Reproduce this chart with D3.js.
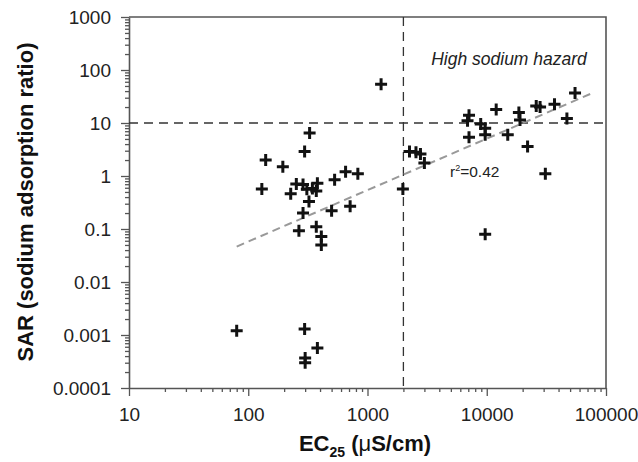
<!DOCTYPE html>
<html>
<head>
<meta charset="utf-8">
<script src="https://cdn.jsdelivr.net/npm/d3@7"></script>
<style>
  body { margin: 0; background: #fff; }
  text { font-family: Arial, "Liberation Sans", sans-serif; }
</style>
</head>
<body>
<div id="chart"></div>
<script>
// EC25 (uS/cm) and SAR
var ec = [80, 297, 300, 300, 380,
    327, 297, 140, 195, 130, 253, 288, 227, 310, 345, 372, 380, 323, 288, 266, 372, 410, 410,
    530, 655, 830, 500, 715,
    1300, 1980, 2250, 2550, 2780, 3000,
    7100, 6900, 8900, 9700, 7100, 9700, 12000, 15000, 18600, 19000, 22000, 26000, 28000, 37000, 31000, 47000, 55000, 9700];
var sar = [0.0012, 0.0013, 0.00037, 0.0003, 0.00057,
    6.5, 2.9, 2.0, 1.5, 0.57, 0.71, 0.69, 0.46, 0.56, 0.58, 0.52, 0.73, 0.33, 0.2, 0.093, 0.11, 0.072, 0.05,
    0.85, 1.2, 1.1, 0.22, 0.27,
    54, 0.57, 2.9, 2.8, 2.6, 1.75,
    14, 11, 9.6, 8, 5.4, 6, 18, 6, 15.7, 11.4, 3.6, 21, 20, 22.5, 1.1, 12.2, 37, 0.08];

var xTicks = [10, 100, 1000, 10000, 100000];
var yTicks = [0.0001, 0.001, 0.01, 0.1, 1, 10, 100, 1000];
var yTickLabels = ["0.0001", "0.001", "0.01", "0.1", "1", "10", "100", "1000"];

var ecLimit = 2000;   // vertical dashed line
var sarLimit = 10;    // horizontal dashed line
// log10(SAR) = a + b*log10(EC), drawn between fitX
var fitA = -3.179, fitB = 0.971;
var fitX = [80, 80000];

var width = 638, height = 462;
var margin = {top: 17, right: 32, bottom: 74, left: 129};

var svg = d3.select("#chart").append("svg")
    .attr("width", width)
    .attr("height", height);

var x = d3.scaleLog().domain([10, 100000]).range([margin.left, width - margin.right]);
var y = d3.scaleLog().domain([0.0001, 1000]).range([height - margin.bottom, margin.top]);

// minor ticks
var xMinor = [], yMinor = [];
xTicks.slice(0, -1).forEach(function(t) { for (var k = 2; k < 10; k++) xMinor.push(t * k); });
yTicks.slice(0, -1).forEach(function(t) { for (var k = 2; k < 10; k++) yMinor.push(t * k); });

var axisColor = "#555";

svg.append("g")
    .attr("transform", "translate(0," + (height - margin.bottom) + ")")
    .call(d3.axisBottom(x).tickValues(xMinor).tickSize(4).tickFormat(""))
    .call(g => g.select(".domain").remove())
    .call(g => g.selectAll("line").attr("stroke", axisColor).attr("stroke-width", 1.3));
svg.append("g")
    .attr("transform", "translate(" + margin.left + ",0)")
    .call(d3.axisLeft(y).tickValues(yMinor).tickSize(4).tickFormat(""))
    .call(g => g.select(".domain").remove())
    .call(g => g.selectAll("line").attr("stroke", axisColor).attr("stroke-width", 1.3));

var xAxis = svg.append("g")
    .attr("transform", "translate(0," + (height - margin.bottom) + ")")
    .call(d3.axisBottom(x).tickValues(xTicks).tickSize(8).tickSizeOuter(0).tickPadding(12)
        .tickFormat(d3.format("d")));
var yAxis = svg.append("g")
    .attr("transform", "translate(" + margin.left + ",0)")
    .call(d3.axisLeft(y).tickValues(yTicks).tickSize(8).tickSizeOuter(0).tickPadding(10)
        .tickFormat((d, i) => yTickLabels[i]));

[xAxis, yAxis].forEach(function(g) {
    g.select(".domain").attr("stroke", axisColor).attr("stroke-width", 1.6);
    g.selectAll(".tick line").attr("stroke", axisColor).attr("stroke-width", 1.3);
    g.selectAll(".tick text").attr("fill", "#222").style("font-size", "19px");
});

// frame top and right
svg.append("path")
    .attr("d", "M" + margin.left + "," + margin.top + "H" + (width - margin.right) + "V" + (height - margin.bottom))
    .attr("fill", "none")
    .attr("stroke", axisColor)
    .attr("stroke-width", 1.6);

// hazard limits
svg.append("line")
    .attr("x1", x(10)).attr("x2", x(100000))
    .attr("y1", y(sarLimit)).attr("y2", y(sarLimit))
    .attr("stroke", "#333").attr("stroke-width", 1.3).attr("stroke-dasharray", "9,6");
svg.append("line")
    .attr("x1", x(ecLimit)).attr("x2", x(ecLimit))
    .attr("y1", y(1000)).attr("y2", y(0.0001))
    .attr("stroke", "#333").attr("stroke-width", 1.3).attr("stroke-dasharray", "9,6");

// regression line
svg.append("line")
    .attr("x1", x(fitX[0])).attr("y1", y(Math.pow(10, fitA + fitB * Math.log10(fitX[0]))))
    .attr("x2", x(fitX[1])).attr("y2", y(Math.pow(10, fitA + fitB * Math.log10(fitX[1]))))
    .attr("stroke", "#999").attr("stroke-width", 2).attr("stroke-dasharray", "8,5");

// points
svg.append("g").selectAll("path")
    .data(d3.zip(ec, sar))
    .join("path")
    .attr("transform", d => "translate(" + x(d[0]) + "," + y(d[1]) + ")")
    .attr("d", "M-6,0H6M0,-6V6")
    .attr("stroke", "#111")
    .attr("stroke-width", 3)
    .attr("fill", "none");

svg.append("text")
    .attr("x", 509).attr("y", 65)
    .attr("text-anchor", "middle")
    .style("font-size", "17.5px")
    .style("font-style", "italic")
    .attr("fill", "#222")
    .text("High sodium hazard");

var r2 = svg.append("text")
    .attr("x", 450).attr("y", 177)
    .style("font-size", "15.5px")
    .attr("fill", "#222");
r2.append("tspan").text("r");
r2.append("tspan").attr("dy", -6).style("font-size", "9px").text("2");
r2.append("tspan").attr("dy", 6).text("=0.42");

// axis titles
var xt = svg.append("text")
    .attr("x", 365)
    .attr("y", 451)
    .attr("text-anchor", "middle")
    .style("font-size", "22px")
    .style("font-weight", "bold")
    .attr("fill", "#111");
xt.append("tspan").text("EC");
xt.append("tspan").attr("dy", 6).style("font-size", "14px").text("25");
xt.append("tspan").attr("dy", -6).text(" (");
xt.append("tspan").style("font-weight", "normal").text("\u03BC");
xt.append("tspan").text("S/cm)");

svg.append("text")
    .attr("transform", "translate(33,202) rotate(-90)")
    .attr("text-anchor", "middle")
    .style("font-size", "22px")
    .style("font-weight", "bold")
    .attr("fill", "#111")
    .text("SAR (sodium adsorption ratio)");
</script>
</body>
</html>
